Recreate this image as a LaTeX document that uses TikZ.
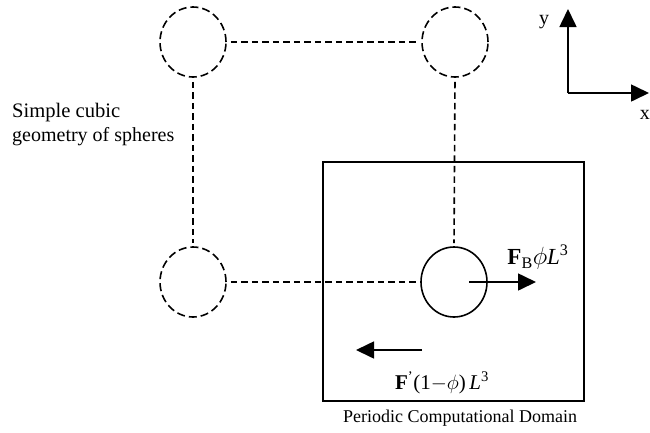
\documentclass[tikz,border=0pt]{standalone}
\usepackage{fontspec}
\setmainfont{Liberation Serif}
\usetikzlibrary{shapes.geometric,arrows.meta}
\tikzset{
  sph/.style={ellipse,minimum width=66pt,minimum height=70pt,inner sep=0pt,line width=1.6pt},
  dsph/.style={sph,draw,dash pattern=on 8pt off 4pt},
  ssph/.style={sph,draw},
  dline/.style={line width=1.6pt,dash pattern=on 6.5pt off 4pt,shorten <=4pt,shorten >=3pt},
  arr/.style={line width=1.6pt,-{Triangle[length=18pt,width=17pt]}},
  lbl/.style={inner sep=0pt,font=\fontsize{20}{24}\selectfont}
}
\begin{document}
\begin{tikzpicture}[x=1pt,y=-1pt]
\useasboundingbox (0,0) rectangle (650,432);
\node[dsph] (tl) at (193,42) {};
\node[dsph] (tr) at (455,42) {};
\node[dsph] (bl) at (193,282) {};
\node[ssph] (br) at (454,282) {};
\draw[dline] (tl.east) -- (tr.west);
\draw[dline] (tl.south) -- (bl.north);
\draw[dline] (bl.east) -- (br.west);
\draw[dline] (tr.south) -- (br.north);
\node[draw,line width=1.6pt,minimum width=261pt,minimum height=239pt,inner sep=0pt] (dom) at (453.5,281.5) {};
% force arrows
\coordinate (fbs) at (469,282);
\coordinate (fbe) at (536,282);
\draw[arr] (fbs) -- (fbe);
\coordinate (fps) at (422,350);
\coordinate (fpe) at (356,350);
\draw[arr] (fps) -- (fpe);
\node[lbl] (fb) at (538,257) {\fontsize{23}{26}\selectfont\textbf{F}\textsubscript{B}$\phi$\textit{L}\textsuperscript{3}};
\node[lbl] (fp) at (442,383) {\fontsize{21}{24}\selectfont\textbf{F}\textsuperscript{'}(1$-\phi$)\,\textit{L}\textsuperscript{3}};
\node[lbl,anchor=north] (pcd) at (460,410) {\fontsize{18}{22}\selectfont Periodic Computational Domain};
\node[lbl,anchor=north west,align=left] (sc) at (12,103) {\fontsize{20.6}{26}\selectfont Simple cubic\\ geometry of spheres};
% axes
\coordinate (o) at (568,93);
\coordinate (ay) at (568,9);
\coordinate (ax) at (649,93);
\draw[arr] (o) -- (ay);
\draw[arr] (o) -- (ax);
\node[lbl] (ylab) at (544,22) {y};
\node[lbl,anchor=east] (xlab) at (650,115) {x};
\end{tikzpicture}
\end{document}
